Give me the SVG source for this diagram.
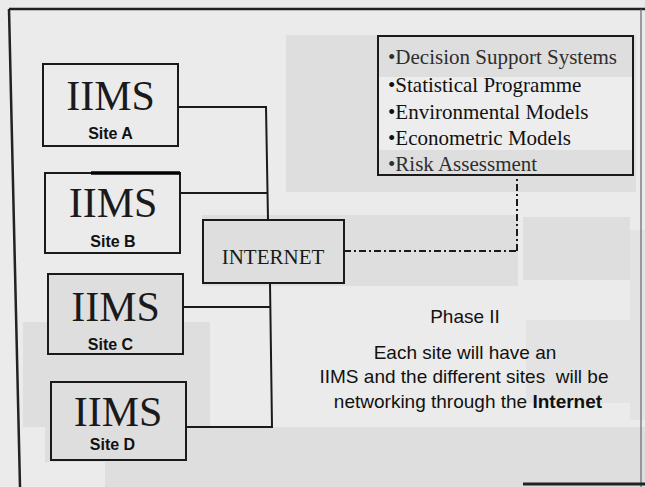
<svg xmlns="http://www.w3.org/2000/svg" width="645" height="487" viewBox="0 0 645 487">
  <style>
    .box { fill: none; stroke: #1a1a1a; stroke-width: 2; }
    .wire { fill: none; stroke: #1a1a1a; stroke-width: 2; }
    .big { font-family: "Liberation Serif", "Times New Roman", serif; font-size: 42px; fill: #1a1a1a; text-anchor: middle; }
    .site { font-family: "Liberation Sans", Arial, sans-serif; font-size: 16px; font-weight: bold; fill: #111; text-anchor: middle; }
    .net { font-family: "Liberation Serif", "Times New Roman", serif; font-size: 21px; fill: #1a1a1a; text-anchor: middle; }
    .tool { font-family: "Liberation Serif", "Times New Roman", serif; font-size: 21px; fill: #111; }
    .tool.dim { fill: #2e2e2e; }
    .cap { font-family: "Liberation Sans", Arial, sans-serif; font-size: 19px; fill: #111; text-anchor: middle; white-space: pre; }
    .patch { fill: #dedede; }
    .patch2 { fill: #e3e3e3; }
    .light { fill: #ededed; }
  </style>

  <!-- page background and scan patches -->
  <g id="background">
    <rect x="0" y="0" width="645" height="487" fill="#ebebeb"/>
    <rect class="patch" x="286" y="35" width="350" height="157"/>
    <rect class="light" x="379" y="77" width="253" height="73"/>
    <rect class="patch" x="202" y="215" width="316" height="71"/>
    <rect class="patch" x="523" y="217" width="107" height="63"/>
    <rect class="patch" x="48" y="274" width="135" height="80"/>
    <rect class="patch" x="23" y="322" width="187" height="105"/>
    <rect class="patch" x="45" y="382" width="141" height="80"/>
    <rect class="patch" x="105" y="427" width="540" height="60"/>
    <rect class="patch2" x="526" y="320" width="104" height="83"/>
    <rect class="patch2" x="630" y="230" width="15" height="190"/>
  </g>

  <!-- page frame -->
  <g id="frame" fill="none" stroke="#222">
    <line x1="9" y1="9" x2="645" y2="9" stroke-width="2.5"/>
    <line x1="9" y1="9" x2="20" y2="487" stroke-width="2.5"/>
    <line x1="641" y1="9" x2="641" y2="487" stroke-width="1.2" stroke="#666"/>
    <line x1="523" y1="484" x2="645" y2="484" stroke-width="3"/>
  </g>

  <!-- connectors -->
  <g id="connectors">
    <polyline class="wire" points="178,107 266,107 268,220"/>
    <line class="wire" x1="180" y1="193" x2="267" y2="193"/>
    <line class="wire" x1="183" y1="307" x2="271" y2="307"/>
    <polyline class="wire" points="186,427 272,427 270,283"/>
    <line class="wire" x1="344" y1="251" x2="517" y2="251" stroke-dasharray="7 3 2 3"/>
    <line class="wire" x1="517" y1="251" x2="517" y2="175" stroke-dasharray="7 3 2 3"/>
  </g>

  <g id="siteA">
    <rect class="box" x="43" y="64" width="135" height="82"/>
    <text class="big" x="110.5" y="110">IIMS</text>
    <text class="site" x="110.5" y="139">Site A</text>
  </g>

  <g id="siteB">
    <rect class="box" x="45" y="173" width="135" height="80"/>
    <line x1="91" y1="173" x2="180" y2="173" stroke="#000" stroke-width="3.5"/>
    <text class="big" x="113" y="217">IIMS</text>
    <text class="site" x="113" y="247">Site B</text>
  </g>

  <g id="siteC">
    <rect class="box" x="48" y="274" width="135" height="80"/>
    <text class="big" x="115.5" y="321">IIMS</text>
    <text class="site" x="110.5" y="350">Site C</text>
  </g>

  <g id="siteD">
    <rect class="box" x="51" y="382" width="135" height="78"/>
    <text class="big" x="118" y="426">IIMS</text>
    <text class="site" x="112.5" y="450">Site D</text>
  </g>

  <g id="internet">
    <rect class="box" x="203" y="220" width="141" height="63"/>
    <text class="net" x="273" y="264">INTERNET</text>
  </g>

  <g id="tools">
    <rect class="box" x="378" y="36" width="255" height="139"/>
    <text class="tool dim" x="388" y="64">•Decision Support Systems</text>
    <text class="tool" x="388" y="92">•Statistical Programme</text>
    <text class="tool" x="388" y="119">•Environmental Models</text>
    <text class="tool" x="388" y="145">•Econometric Models</text>
    <text class="tool dim" x="388" y="171">•Risk Assessment</text>
  </g>

  <g id="caption">
    <text class="cap" x="465" y="323">Phase II</text>
    <text class="cap" x="465" y="359">Each site will have an</text>
    <text class="cap" x="464" y="383">IIMS and the different sites  will be</text>
    <text class="cap" x="468" y="408">networking through the <tspan font-weight="bold">Internet</tspan></text>
  </g>
</svg>
